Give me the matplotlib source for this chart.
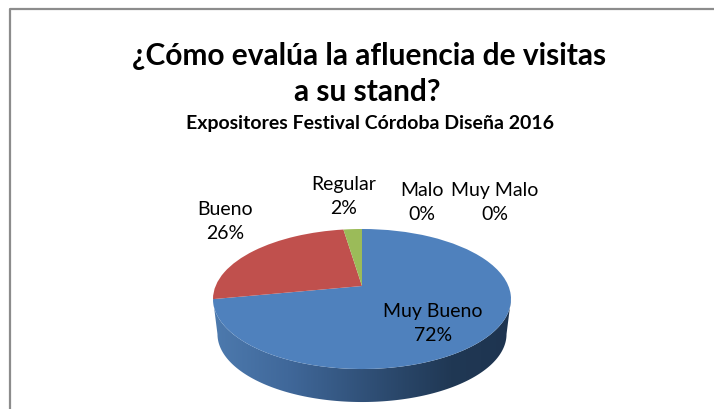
# plot.py
"""
Tilted pie chart of stand visitor ratings
"""

import numpy as np
import matplotlib
matplotlib.use("Agg")
import matplotlib.pyplot as plt
from matplotlib.colors import LinearSegmentedColormap
from matplotlib.patches import Polygon
from matplotlib.transforms import Transform

categories = ["Muy Bueno", "Bueno", "Regular", "Malo", "Muy Malo"]
shares = [72, 25.6, 2.4, 0, 0]
slice_colors = ["#4F81BD", "#C0504D", "#9BBB59", "#8064A2", "#4BACC6"]

title_lines = ["¿Cómo evalúa la afluencia de visitas", "a su stand?"]
subtitle = "Expositores Festival Córdoba Diseña 2016"

# label centres in pixels, same order as categories
label_pos = [(433, 324), (225, 222), (344, 197), (422, 203), (495, 203)]

# pie geometry in pixels
CX, CY = 362, 287
RX, RY, TILT = 146.4, 67.6, 0.1857
DEPTH, BOTTOM_SCALE = 35.5, 0.97


def tilt_points(xy):
    """Project unit circle points onto the slanted pie top"""
    xy = np.asarray(xy, dtype=float)
    w = 1 + TILT * xy[:, 1]
    return np.column_stack([CX + RX * xy[:, 0] / w, CY - RY * xy[:, 1] / w])


class TiltTransform(Transform):
    input_dims = 2
    output_dims = 2

    def transform_non_affine(self, values):
        return tilt_points(values)


plt.rcParams["font.family"] = ["Lato", "DejaVu Sans"]

fig = plt.figure(figsize=(7.14, 4.10), dpi=100)
ax = fig.add_axes([0, 0, 1, 1])

wedges, _ = ax.pie(shares, colors=slice_colors, startangle=90, counterclock=False,
                   radius=1, center=(0, 0), wedgeprops={"linewidth": 0})
ax.set_aspect("auto")
tilt = TiltTransform()
for wedge in wedges:
    wedge.set_transform(tilt + ax.transData)
    wedge.set_zorder(3)

# side wall, gradient clipped to the band under the front edge
start = np.pi + np.arcsin(TILT)
end = 2 * np.pi - np.arcsin(TILT)
t = np.linspace(start, end, 200)
rim = tilt_points(np.column_stack([np.cos(t), np.sin(t)]))
low = np.column_stack([CX + (rim[:, 0] - CX) * BOTTOM_SCALE,
                       CY + (rim[:, 1] - CY) * BOTTOM_SCALE + DEPTH])
band = Polygon(np.vstack([rim, low[::-1]]), closed=True, transform=ax.transData,
               facecolor="none", edgecolor="none")
ax.add_patch(band)

side_cmap = LinearSegmentedColormap.from_list(
    "side", [(0, "#4D7AAE"), (0.25, "#40689A"), (0.55, "#2E4D73"),
             (0.8, "#203854"), (1, "#1E3450")])
img = ax.imshow(np.linspace(0, 1, 256).reshape(1, -1), cmap=side_cmap, aspect="auto",
                extent=[CX - 149, CX + 149, 410, 290], zorder=2)
img.set_clip_path(band)

ax.set_xlim(0, 714)
ax.set_ylim(410, 0)
ax.axis("off")

# frame runs off the right and bottom edges
ax.plot([10, 10, 714], [410, 9.5, 9.5], color="#8C8C8C", lw=1.6, zorder=1)

ax.text(369, 56, title_lines[0], ha="center", va="center", fontsize=21.5,
        fontweight="bold", color="black")
ax.text(367, 92, title_lines[1], ha="center", va="center", fontsize=21.5,
        fontweight="bold", color="black")
ax.text(370, 123, subtitle, ha="center", va="center", fontsize=14,
        fontweight="bold", color="black")

for name, share, (x, y) in zip(categories, shares, label_pos):
    ax.text(x, y, f"{name}\n{share:.0f}%", ha="center", va="center", fontsize=14,
            linespacing=1.5, color="black", zorder=5)

fig.savefig("out.png", dpi=100)
